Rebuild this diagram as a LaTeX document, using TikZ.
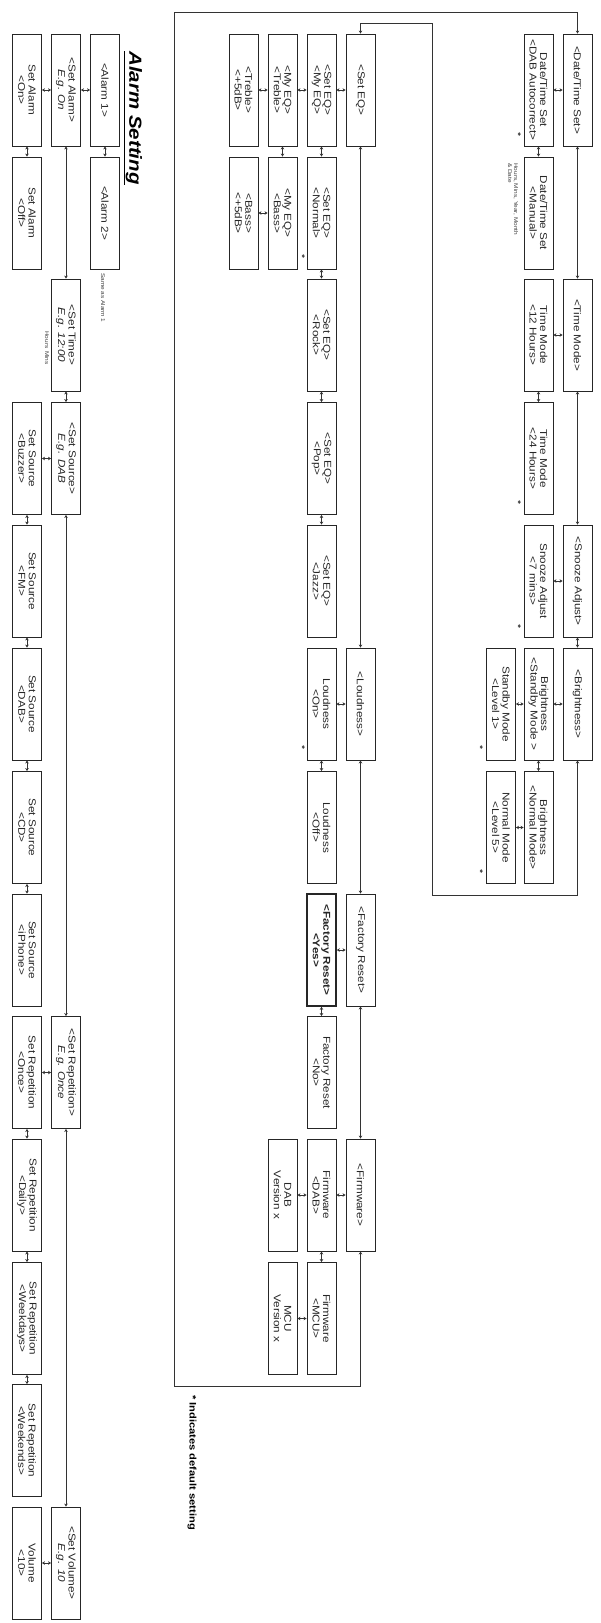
\documentclass[tikz,border=0pt]{standalone}
\usepackage{fontspec}
\setmainfont{Liberation Sans}[FakeStretch=1.17]
\usetikzlibrary{arrows.meta}

\begin{document}
\begin{tikzpicture}[x=1pt, y=-1pt,
    box/.style={draw=black!85, text=black!85, line width=0.9pt, rotate=-90, minimum width=112pt, minimum height=29pt, inner sep=1pt, align=center, font=\fontsize{10}{10.5}\selectfont},
    boldbox/.style={box, line width=1.6pt, font=\fontsize{10}{10.5}\selectfont\bfseries},
    note/.style={rotate=-90, inner sep=0pt, align=left, text=black!75, font=\fontsize{5.5}{6}\selectfont},
    star/.style={rotate=-90, inner sep=0pt, font=\fontsize{9}{9}\selectfont},
    link/.style={<->, >={Stealth[length=3pt,width=3.5pt]}, line width=0.7pt, draw=black!80}]
                \useasboundingbox (0,0) rectangle (600,1623);

                \node[box] (dts) at (577.5,90) {<Date/Time Set>};
                \node[box] (tmode) at (577.5,335) {<Time Mode>};
                \node[box] (snooze) at (577.5,581) {<Snooze Adjust>};
                \node[box] (bright) at (577.5,704) {<Brightness>};

                \node[box] (dtsdab) at (538.5,90) {Date/Time Set\\<DAB Autocorrect>};
                \node[box] (dtsman) at (538.5,213) {Date/Time Set\\<Manual>};
                \node[box] (tm12) at (538.5,335) {Time Mode\\<12 Hours>};
                \node[box] (tm24) at (538.5,458.5) {Time Mode\\<24 Hours>};
                \node[box] (snz7) at (538.5,581) {Snooze Adjust\\<7 mins>};
                \node[box] (brstd) at (538.5,704) {Brightness\\<Standby Mode >};
                \node[box] (brnorm) at (538.5,827.5) {Brightness\\<Normal Mode>};
                \node[box] (lvl1) at (501,704) {Standby Mode\\<Level 1>};
                \node[box] (lvl5) at (501,827.5) {Normal Mode\\<Level 5>};

                \node[box] (seteq) at (360.5,90) {<Set EQ>};
                \node[box] (loud) at (360.5,704) {<Loudness>};
                \node[box] (freset) at (360.5,950) {<Factory Reset>};
                \node[box] (firm) at (360.5,1195) {<Firmware>};

                \node[box] (eqmy) at (321.5,90) {<Set EQ>\\<My EQ>};
                \node[box] (eqnorm) at (321.5,213) {<Set EQ>\\<Normal>};
                \node[box] (eqrock) at (321.5,335) {<Set EQ>\\<Rock>};
                \node[box] (eqpop) at (321.5,458.5) {<Set EQ>\\<Pop>};
                \node[box] (eqjazz) at (321.5,581) {<Set EQ>\\<Jazz>};
                \node[box] (loudon) at (321.5,704) {Loudness\\<On>};
                \node[box] (loudoff) at (321.5,827.5) {Loudness\\<Off>};
                \node[boldbox] (fryes) at (321.5,950) {<Factory Reset>\\<Yes>};
                \node[box] (frno) at (321.5,1072.5) {Factory Reset\\<No>};
                \node[box] (fwdab) at (321.5,1195) {Firmware\\<DAB>};
                \node[box] (fwmcu) at (321.5,1318.5) {Firmware\\<MCU>};

                \node[box] (mytreb) at (282.5,90) {<My EQ>\\<Treble>};
                \node[box] (mybass) at (282.5,213) {<My EQ>\\<Bass>};
                \node[box] (dabver) at (282.5,1195) {DAB\\Version x};
                \node[box] (mcuver) at (282.5,1318.5) {MCU\\Version x};
                \node[box] (treb) at (243.5,90) {<Treble>\\<+5dB>};
                \node[box] (bass) at (243.5,213) {<Bass>\\<+5dB>};

                \node[rotate=-90, inner sep=0pt, font=\fontsize{17.5}{18}\selectfont\bfseries\itshape] (alarmtitle) at (133,118) {\underline{Alarm Setting}};
                \node[box] (alarm1) at (105,90) {<Alarm 1>};
                \node[box] (alarm2) at (105,213) {<Alarm 2>};
                \node[box] (setalarm) at (66,90) {<Set Alarm>\\\textit{E.g. On}};
                \node[box] (settime) at (66,335) {<Set Time>\\\textit{E.g. 12:00}};
                \node[box] (setsrc) at (66,458.5) {<Set Source>\\\textit{E.g. DAB}};
                \node[box] (setrep) at (66,1072.5) {<Set Repetition>\\\textit{E.g. Once}};
                \node[box] (setvol) at (66,1563) {<Set Volume>\\\textit{E.g. 10}};
                \node[box] (alon) at (27,90) {Set Alarm\\<On>};
                \node[box] (aloff) at (27,213) {Set Alarm\\<Off>};
                \node[box] (srcbuz) at (27,458.5) {Set Source\\<Buzzer>};
                \node[box] (srcfm) at (27,581) {Set Source\\<FM>};
                \node[box] (srcdab) at (27,704) {Set Source\\<DAB>};
                \node[box] (srccd) at (27,827.5) {Set Source\\<CD>};
                \node[box] (srcph) at (27,950) {Set Source\\<iPhone>};
                \node[box] (reponce) at (27,1072.5) {Set Repetition\\<Once>};
                \node[box] (repdaily) at (27,1195) {Set Repetition\\<Daily>};
                \node[box] (repwkd) at (27,1318.5) {Set Repetition\\<Weekdays>};
                \node[box] (repwke) at (27,1440.5) {Set Repetition\\<Weekends>};
                \node[box] (vol10) at (27,1563) {Volume\\<10>};

                \node[note, anchor=west] (datenote) at (513,163) {Hours, Mins, Year, Month\\\& Date};
                \node[note, anchor=west] (samenote) at (103,273) {Same as Alarm 1};
                \node[note] (timenote) at (47,348) {Hours\enspace Mins};
                \node[star] (ast1) at (518,135) {*};
                \node[star] (ast2) at (518,503) {*};
                \node[star] (ast3) at (518,627) {*};
                \node[star] (ast4) at (480,748) {*};
                \node[star] (ast5) at (480,872) {*};
                \node[star] (ast6) at (302,257) {*};
                \node[star] (ast7) at (302,748) {*};
                \node[rotate=-90, anchor=west, inner sep=0pt, font=\fontsize{9.5}{10}\selectfont\bfseries] (default) at (192,1395) {* Indicates default setting};

                \draw[link] (dts.east) -- (tmode.west);
                \draw[link] (tmode.east) -- (snooze.west);
                \draw[link] (snooze.east) -- (bright.west);
                \draw[link] (dts.south) -- (dtsdab.north);
                \draw[link] (tmode.south) -- (tm12.north);
                \draw[link] (snooze.south) -- (snz7.north);
                \draw[link] (bright.south) -- (brstd.north);
                \draw[link] (dtsdab.east) -- (dtsman.west);
                \draw[link] (tm12.east) -- (tm24.west);
                \draw[link] (brstd.east) -- (brnorm.west);
                \draw[link] (brstd.south) -- (lvl1.north);
                \draw[link] (brnorm.south) -- (lvl5.north);
                \draw[link] (bright.east) -- ++(0,135) -| (432,23) -| (seteq.west);

                \draw[link] (seteq.east) -- (loud.west);
                \draw[link] (loud.east) -- (freset.west);
                \draw[link] (freset.east) -- (firm.west);
                \draw[link] (seteq.south) -- (eqmy.north);
                \draw[link] (loud.south) -- (loudon.north);
                \draw[link] (freset.south) -- (fryes.north);
                \draw[link] (firm.south) -- (fwdab.north);
                \draw[link] (eqmy.east) -- (eqnorm.west);
                \draw[link] (eqnorm.east) -- (eqrock.west);
                \draw[link] (eqrock.east) -- (eqpop.west);
                \draw[link] (eqpop.east) -- (eqjazz.west);
                \draw[link] (loudon.east) -- (loudoff.west);
                \draw[link] (fryes.east) -- (frno.west);
                \draw[link] (fwdab.east) -- (fwmcu.west);
                \draw[link] (eqmy.south) -- (mytreb.north);
                \draw[link] (mytreb.east) -- (mybass.west);
                \draw[link] (mytreb.south) -- (treb.north);
                \draw[link] (mybass.south) -- (bass.north);
                \draw[link] (fwdab.south) -- (dabver.north);
                \draw[link] (fwmcu.south) -- (mcuver.north);
                \draw[link] (firm.east) -- ++(0,135) -| (174,12) -| (dts.west);

                \draw[link] (alarm1.south) -- (setalarm.north);
                \draw[link] (alarm1.east) -- (alarm2.west);
                \draw[link] (setalarm.south) -- (alon.north);
                \draw[link] (alon.east) -- (aloff.west);
                \draw[link] (setalarm.east) -- (settime.west);
                \draw[link] (settime.east) -- (setsrc.west);
                \draw[link] (setsrc.south) -- (srcbuz.north);
                \draw[link] (srcbuz.east) -- (srcfm.west);
                \draw[link] (srcfm.east) -- (srcdab.west);
                \draw[link] (srcdab.east) -- (srccd.west);
                \draw[link] (srccd.east) -- (srcph.west);
                \draw[link] (setsrc.east) -- (setrep.west);
                \draw[link] (setrep.south) -- (reponce.north);
                \draw[link] (reponce.east) -- (repdaily.west);
                \draw[link] (repdaily.east) -- (repwkd.west);
                \draw[link] (repwkd.east) -- (repwke.west);
                \draw[link] (setrep.east) -- (setvol.west);
                \draw[link] (setvol.south) -- (vol10.north);
            \end{tikzpicture}
\end{document}
